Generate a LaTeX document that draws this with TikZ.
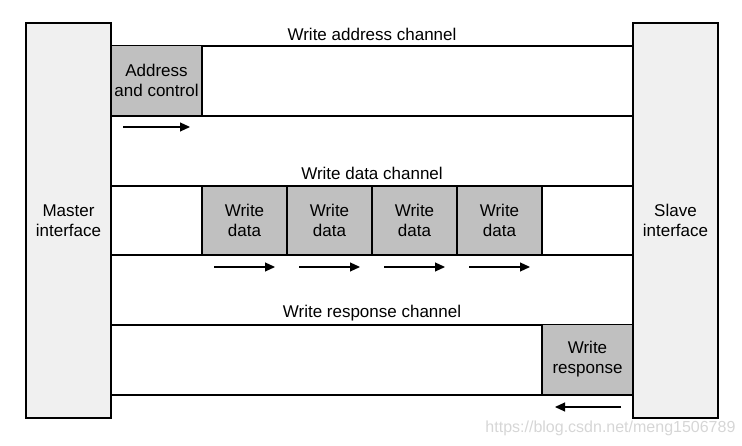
\documentclass[tikz,border=0pt]{standalone}
\usepackage{fontspec}
\setmainfont{Liberation Sans}
\usetikzlibrary{arrows.meta}
\definecolor{ifacegray}{HTML}{F0F0F0}
\definecolor{beatgray}{HTML}{C0C0C0}
\definecolor{wmgray}{HTML}{D6D6D6}
\begin{document}
\begin{tikzpicture}[x=1pt,y=-1pt,
  font=\fontsize{17}{20}\selectfont,
  every path/.style={line width=1.1pt},
  iface/.style={draw, fill=ifacegray, minimum width=85pt, minimum height=395pt, align=center, inner sep=0pt},
  beat/.style={draw, fill=beatgray, minimum width=85pt, minimum height=69pt, align=center, inner sep=0pt},
  wide/.style={beat, minimum width=91pt, minimum height=70pt},
  chan/.style={line width=1.1pt},
  flow/.style={line width=1.1pt, -{Triangle[length=10pt,width=9pt]}},
  lbl/.style={inner sep=0pt, anchor=center}]
\useasboundingbox (0,0) rectangle (742,446);
% interfaces
\node[iface] (m) at (68.5,220.5) {Master\\interface};
\node[iface] (s) at (675.5,220.5) {Slave\\interface};
% channel rails
\coordinate (a1) at (111,46); \coordinate (a2) at (633,46);
\coordinate (a3) at (111,116); \coordinate (a4) at (633,116);
\coordinate (d1) at (111,186); \coordinate (d2) at (633,186);
\coordinate (d3) at (111,255); \coordinate (d4) at (633,255);
\coordinate (r1) at (111,325); \coordinate (r2) at (633,325);
\coordinate (r3) at (111,395); \coordinate (r4) at (633,395);
\draw[chan] (a1) -- (a2); \draw[chan] (a3) -- (a4);
\draw[chan] (d1) -- (d2); \draw[chan] (d3) -- (d4);
\draw[chan] (r1) -- (r2); \draw[chan] (r3) -- (r4);
% labels
\node[lbl] (la) at (372,34.5) {Write address channel};
\node[lbl] (ld) at (372,173.5) {Write data channel};
\node[lbl] (lr) at (372,313.5) {Write response channel};
% beats
\node[wide] (addr) at (156.5,80.5) {Address\\and control};
\node[beat] (w1) at (244.5,220.5) {Write\\data};
\node[beat] (w2) at (329.5,220.5) {Write\\data};
\node[beat] (w3) at (414.5,220.5) {Write\\data};
\node[beat] (w4) at (499.5,220.5) {Write\\data};
\node[wide] (resp) at (587.5,359.5) {Write\\response};
% arrows
\coordinate (p0a) at (123,127); \coordinate (p0b) at (190,127);
\coordinate (p1a) at (214,267); \coordinate (p1b) at (275,267);
\coordinate (p2a) at (299,267); \coordinate (p2b) at (360,267);
\coordinate (p3a) at (384,267); \coordinate (p3b) at (445,267);
\coordinate (p4a) at (469,267); \coordinate (p4b) at (530,267);
\coordinate (p5a) at (621,407); \coordinate (p5b) at (555,407);
\draw[flow] (p0a) -- (p0b);
\draw[flow] (p1a) -- (p1b);
\draw[flow] (p2a) -- (p2b);
\draw[flow] (p3a) -- (p3b);
\draw[flow] (p4a) -- (p4b);
\draw[flow] (p5a) -- (p5b);
% watermark
\node[lbl, text=wmgray, anchor=east, font=\fontsize{16}{18}\selectfont] (wm) at (736,428) {https://blog.csdn.net/meng1506789};
\end{tikzpicture}
\end{document}
